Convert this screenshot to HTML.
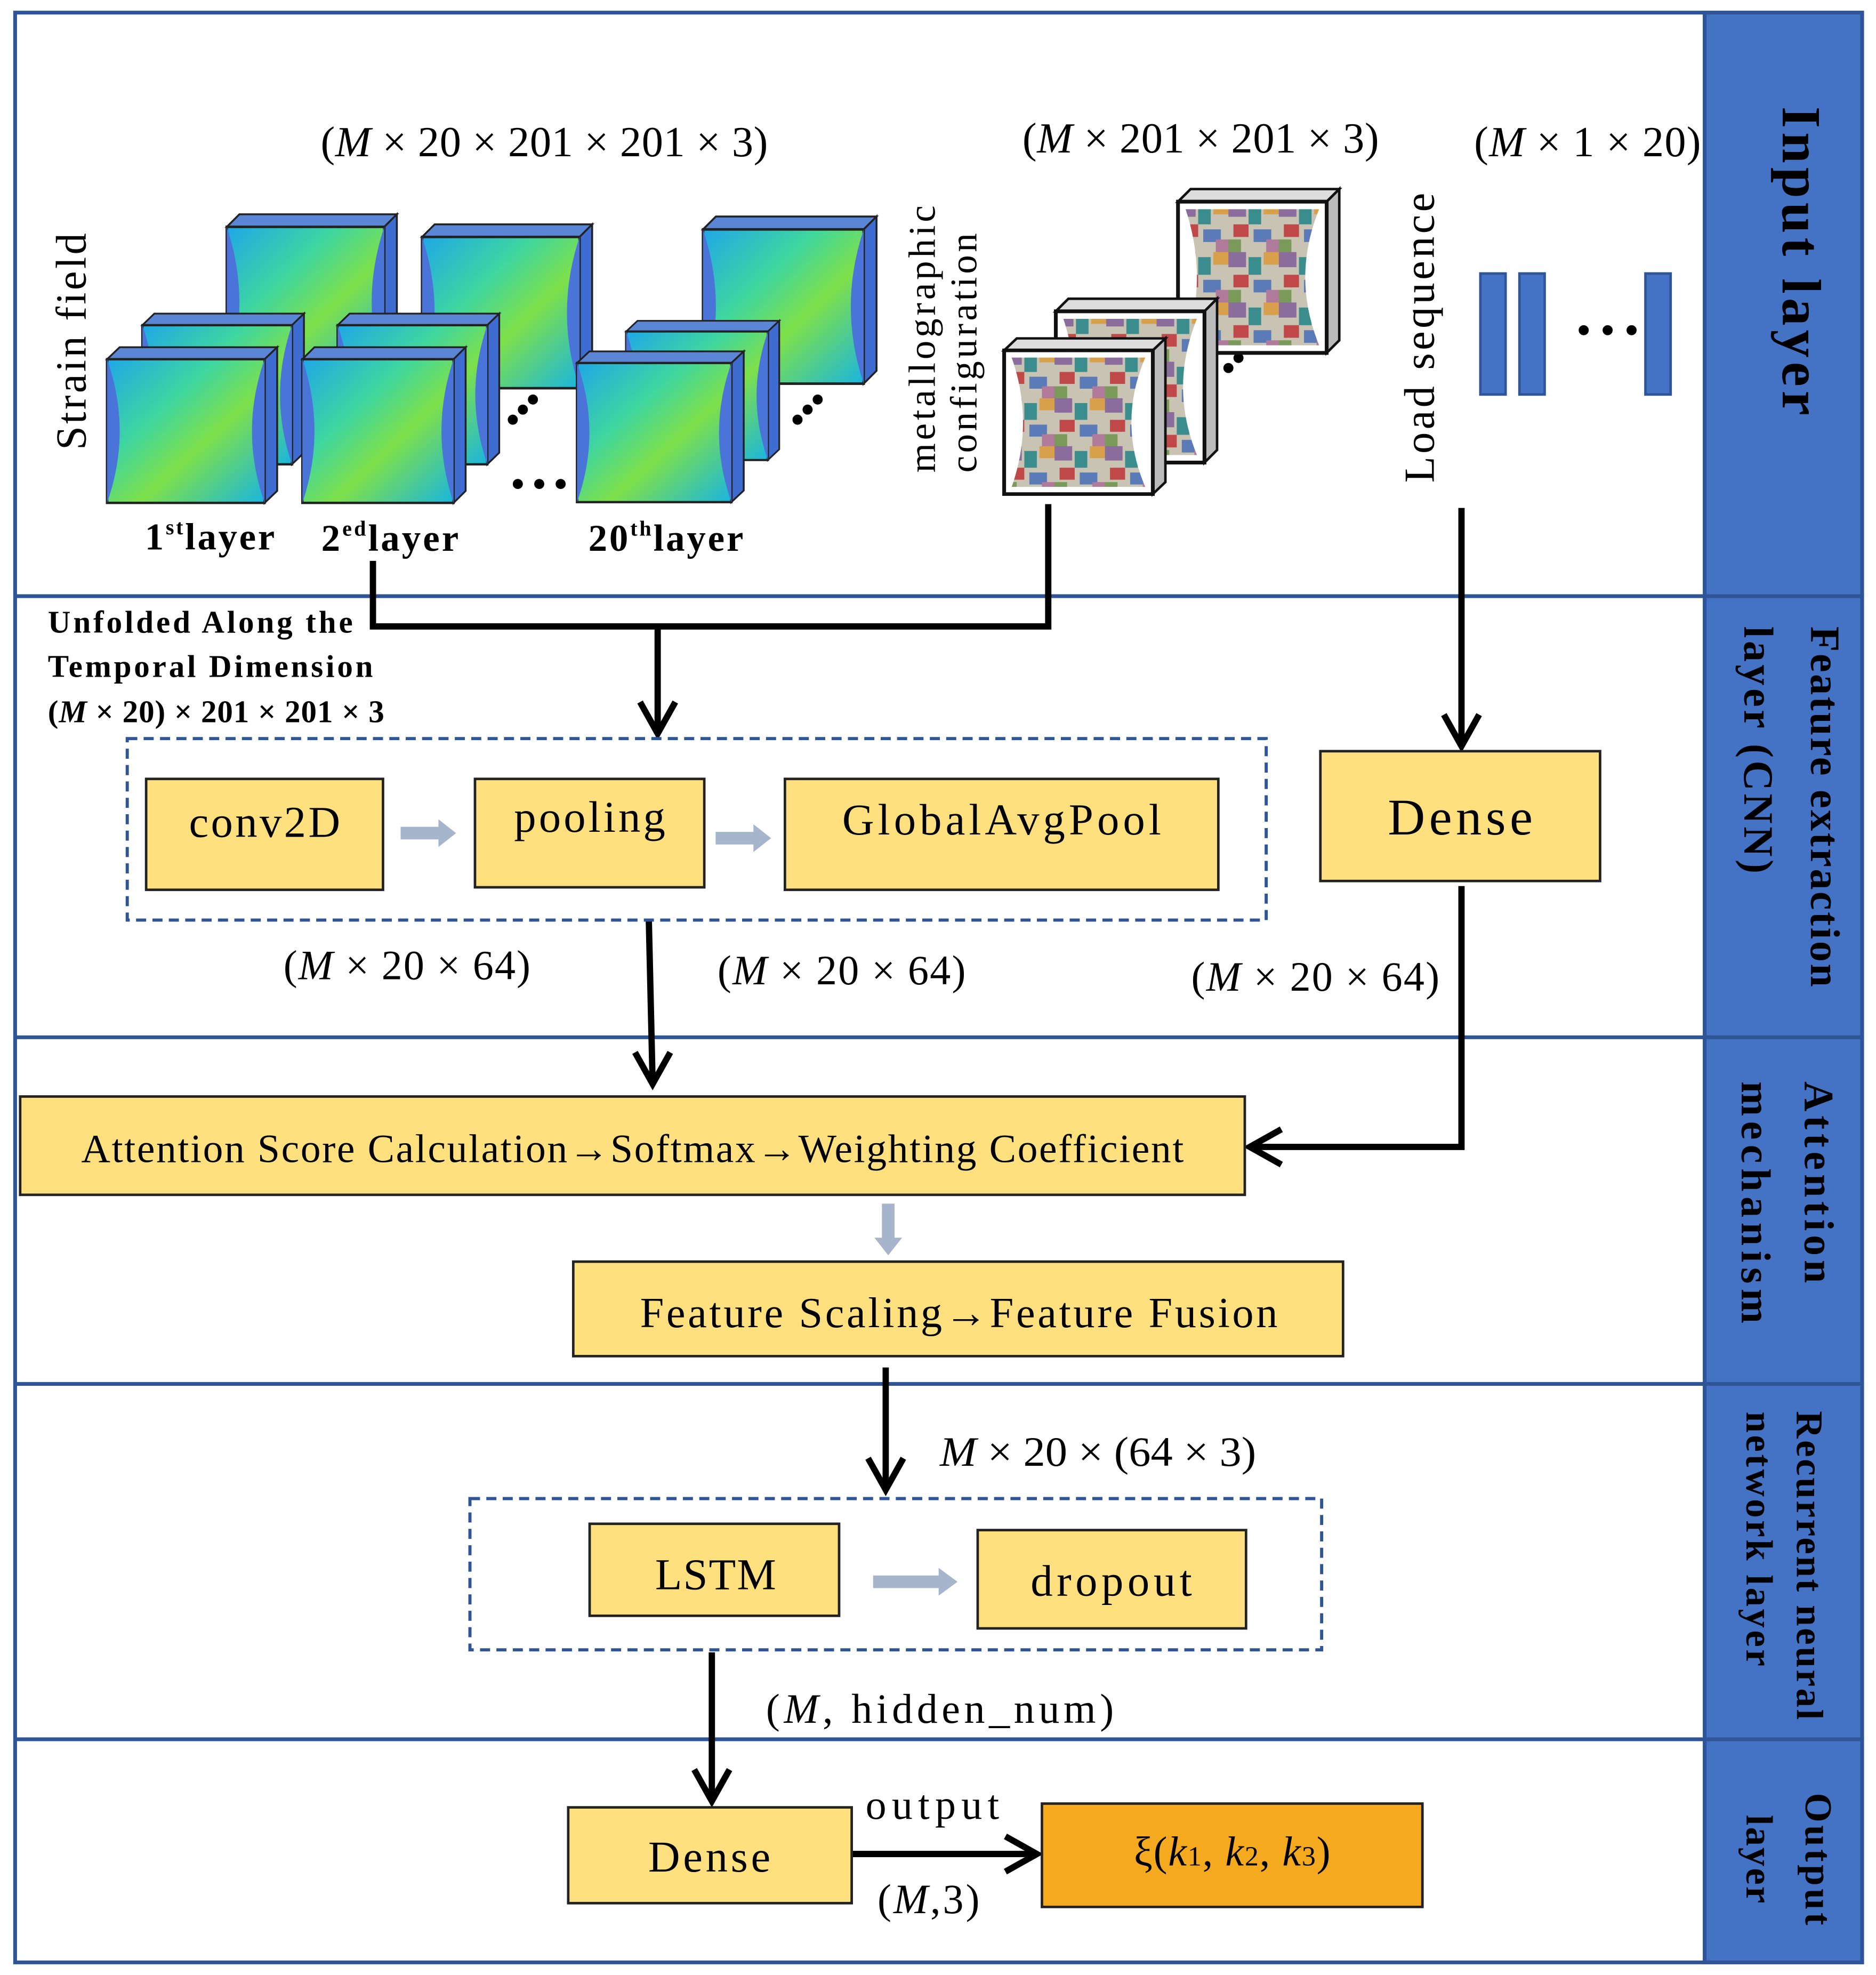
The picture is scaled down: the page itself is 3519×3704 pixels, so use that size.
<!DOCTYPE html>
<html><head><meta charset="utf-8"><style>
html,body{margin:0;padding:0;background:#fff;}
svg{display:block;}
text{font-family:"Liberation Serif",serif;fill:#000;}
</style></head><body>
<svg width="3519" height="3704" viewBox="0 0 1489 1567" preserveAspectRatio="none" xmlns="http://www.w3.org/2000/svg">
<defs>
<linearGradient id="sg" x1="0" y1="0" x2="1" y2="1">
<stop offset="0" stop-color="#1fa7e8"/><stop offset="0.35" stop-color="#3fd6a0"/><stop offset="0.6" stop-color="#7ee04a"/><stop offset="1" stop-color="#19b5e0"/></linearGradient>
<pattern id="mg" width="40" height="40" patternUnits="userSpaceOnUse">
<rect width="40" height="40" fill="#c9c3b3"/>
<rect x="0" y="0" width="14" height="12" fill="#8a6d9c"/><rect x="16" y="4" width="10" height="14" fill="#3b8c8c"/>
<rect x="28" y="0" width="12" height="10" fill="#d8a04a"/><rect x="4" y="18" width="12" height="10" fill="#c04848"/>
<rect x="20" y="22" width="14" height="10" fill="#5b7ab8"/><rect x="0" y="30" width="10" height="10" fill="#7a9a5a"/>
<rect x="30" y="30" width="10" height="10" fill="#b07a9a"/></pattern>
<g id="sc">
<polygon points="0,0 10,-10 135,-10 125,0" fill="#5b86d6" stroke="#222" stroke-width="1.5"/>
<polygon points="125,0 135,-10 135,110 125,120" fill="#3e6cd0" stroke="#222" stroke-width="1.5"/>
<rect x="0" y="0" width="125" height="120" fill="url(#sg)" stroke="#222" stroke-width="2"/>
<path d="M0,0 Q20,60 0,120 Z M125,0 Q105,60 125,120 Z" fill="#4a74d8"/>
</g>
<g id="mc">
<polygon points="0,0 10,-10 128,-10 118,0" fill="#ddd" stroke="#111" stroke-width="2"/>
<polygon points="118,0 128,-10 128,110 118,120" fill="#bbb" stroke="#111" stroke-width="2"/>
<rect x="0" y="0" width="118" height="120" fill="#fff" stroke="#111" stroke-width="3"/>
<path d="M6,6 L112,6 Q90,60 112,114 L6,114 Q24,60 6,6 Z" fill="url(#mg)"/>
</g>
</defs>
<rect x="12" y="10" width="1466" height="1547" fill="#fff" stroke="#2F5597" stroke-width="3"/>
<rect x="1353" y="10" width="125" height="1547" fill="#4472C4" stroke="#2F5597" stroke-width="3"/>
<g stroke="#2F5597" stroke-width="3">
<line x1="12" y1="473" x2="1478" y2="473"/><line x1="12" y1="823" x2="1478" y2="823"/>
<line x1="12" y1="1098" x2="1478" y2="1098"/><line x1="12" y1="1380" x2="1478" y2="1380"/></g>
<g text-anchor="middle" dominant-baseline="middle" font-weight="bold" lengthAdjust="spacingAndGlyphs">
<text transform="translate(1425,207) rotate(90)" font-size="44" textLength="245">Input layer</text>
<text transform="translate(1445,640) rotate(90)" font-size="33" textLength="286">Feature extraction</text>
<text transform="translate(1392,595) rotate(90)" font-size="33" textLength="196">layer (CNN)</text>
<text transform="translate(1440,938) rotate(90)" font-size="33" textLength="160">Attention</text>
<text transform="translate(1390,954) rotate(90)" font-size="33" textLength="192">mechanism</text>
<text transform="translate(1433,1242) rotate(90)" font-size="30" textLength="245">Recurrent neural</text>
<text transform="translate(1393,1221) rotate(90)" font-size="30" textLength="202">network layer</text>
<text transform="translate(1440,1475) rotate(90)" font-size="30" textLength="105">Output</text>
<text transform="translate(1393,1475) rotate(90)" font-size="30" textLength="70">layer</text>
</g>
<g lengthAdjust="spacingAndGlyphs">
<text x="432" y="124" text-anchor="middle" font-size="34" textLength="355">(<tspan font-style="italic">M</tspan> × 20 × 201 × 201 × 3)</text>
<text x="953" y="121" text-anchor="middle" font-size="34" textLength="283">(<tspan font-style="italic">M</tspan> × 201 × 201 × 3)</text>
<text x="1260" y="124" text-anchor="middle" font-size="34" textLength="180">(<tspan font-style="italic">M</tspan> × 1 × 20)</text>
<text transform="translate(68,271) rotate(-90)" text-anchor="middle" font-size="34" textLength="172">Strain field</text>
<text transform="translate(742,269) rotate(-90)" text-anchor="middle" font-size="30" textLength="212">metallographic</text>
<text transform="translate(775,280) rotate(-90)" text-anchor="middle" font-size="30" textLength="190">configuration</text>
<text transform="translate(1138,268) rotate(-90)" text-anchor="middle" font-size="34" textLength="230">Load sequence</text>
</g>
<use href="#sc" transform="translate(180,180)"/><use href="#sc" transform="translate(113,258) scale(0.95,0.92)"/><use href="#sc" transform="translate(85,285) scale(1,0.95)"/>
<use href="#sc" transform="translate(335,188)"/><use href="#sc" transform="translate(268,258) scale(0.95,0.92)"/><use href="#sc" transform="translate(240,285) scale(0.96,0.95)"/>
<use href="#sc" transform="translate(558,182) scale(1.02,1.02)"/><use href="#sc" transform="translate(497,263) scale(0.9,0.85)"/><use href="#sc" transform="translate(458,288) scale(0.98,0.92)"/>
<g fill="#000"><circle cx="407" cy="333" r="4"/><circle cx="415" cy="325" r="4"/><circle cx="423" cy="317" r="4"/>
<circle cx="633" cy="333" r="4"/><circle cx="641" cy="325" r="4"/><circle cx="649" cy="317" r="4"/>
<circle cx="411" cy="384" r="4"/><circle cx="428" cy="384" r="4"/><circle cx="445" cy="384" r="4"/>
<circle cx="975" cy="292" r="4"/><circle cx="983" cy="284" r="4"/><circle cx="991" cy="276" r="4"/>
<circle cx="1257" cy="262" r="4"/><circle cx="1276" cy="262" r="4"/><circle cx="1295" cy="262" r="4"/></g>
<g lengthAdjust="spacingAndGlyphs" font-weight="bold">
<text x="115" y="436" font-size="30" textLength="103">1<tspan font-size="17" dy="-12">st</tspan><tspan dy="12">layer</tspan></text>
<text x="255" y="437" font-size="30" textLength="109">2<tspan font-size="17" dy="-12">ed</tspan><tspan dy="12">layer</tspan></text>
<text x="467" y="437" font-size="30" textLength="123">20<tspan font-size="17" dy="-12">th</tspan><tspan dy="12">layer</tspan></text>
<text x="38" y="502" font-size="25" textLength="242">Unfolded Along the</text>
<text x="38" y="537" font-size="25" textLength="258">Temporal Dimension</text>
<text x="38" y="573" font-size="25" textLength="267">(<tspan font-style="italic">M</tspan> × 20) × 201 × 201 × 3</text>
</g>
<use href="#mc" transform="translate(935,160)"/><use href="#mc" transform="translate(838,247)"/><use href="#mc" transform="translate(797,278) scale(1,0.95)"/>
<g fill="#4472C4" stroke="#2F5597" stroke-width="2"><rect x="1175" y="217" width="20" height="96"/><rect x="1206" y="217" width="20" height="96"/><rect x="1306" y="217" width="20" height="96"/></g>
<g stroke="#000" stroke-width="5" fill="none">
<polyline points="296,445 296,497 832,497 832,400"/>
<line x1="522" y1="497" x2="522" y2="582"/><polyline points="508,557 522,582 536,557"/>
<line x1="1160" y1="403" x2="1160" y2="592"/><polyline points="1146,567 1160,592 1174,567"/>
<line x1="515" y1="731" x2="518" y2="860"/><polyline points="504,835 518,860 532,835"/>
<polyline points="1160,703 1160,910 992,910"/><polyline points="1017,896 992,910 1017,924"/>
<line x1="703" y1="1085" x2="703" y2="1182"/><polyline points="689,1157 703,1182 717,1157"/>
<line x1="565" y1="1311" x2="565" y2="1429"/><polyline points="551,1404 565,1429 579,1404"/>
<line x1="677" y1="1471" x2="823" y2="1471"/><polyline points="798,1457 823,1471 798,1485"/>
</g>
<rect x="101" y="586" width="904" height="144" fill="none" stroke="#2F5597" stroke-width="2.5" stroke-dasharray="8,5"/>
<rect x="373" y="1189" width="676" height="120" fill="none" stroke="#2F5597" stroke-width="2.5" stroke-dasharray="8,5"/>
<g fill="#FFE07E" stroke="#222" stroke-width="2">
<rect x="116" y="618" width="188" height="88"/><rect x="377" y="618" width="182" height="86"/>
<rect x="623" y="618" width="344" height="88"/><rect x="1048" y="596" width="222" height="103"/>
<rect x="16" y="870" width="972" height="78"/><rect x="455" y="1001" width="611" height="75"/>
<rect x="468" y="1209" width="198" height="73"/><rect x="776" y="1214" width="213" height="78"/>
<rect x="451" y="1434" width="225" height="76"/></g>
<rect x="827" y="1431" width="302" height="82" fill="#F5A91E" stroke="#222" stroke-width="2"/>
<g font-size="35" text-anchor="middle" lengthAdjust="spacingAndGlyphs">
<text x="210" y="664" textLength="120">conv2D</text><text x="468" y="660" textLength="120">pooling</text><text x="795" y="662" textLength="253">GlobalAvgPool</text>
<text x="1159" y="662" font-size="41" textLength="115">Dense</text>
<text x="502" y="922" font-size="32" textLength="875">Attention Score Calculation→Softmax→Weighting Coefficient</text>
<text x="761" y="1053" font-size="34" textLength="506">Feature Scaling→Feature Fusion</text>
<text x="568" y="1261" textLength="96">LSTM</text><text x="882" y="1266" textLength="128">dropout</text>
<text x="563" y="1485" textLength="97">Dense</text>
<text x="978" y="1480" font-size="33" textLength="156">ξ(<tspan font-style="italic">k</tspan><tspan font-size="22">1</tspan>, <tspan font-style="italic">k</tspan><tspan font-size="22">2</tspan>, <tspan font-style="italic">k</tspan><tspan font-size="22">3</tspan>)</text>
<text x="323" y="777" font-size="33" textLength="196">(<tspan font-style="italic">M</tspan> × 20 × 64)</text>
<text x="668" y="781" font-size="33" textLength="197">(<tspan font-style="italic">M</tspan> × 20 × 64)</text>
<text x="1044" y="786" font-size="33" textLength="197">(<tspan font-style="italic">M</tspan> × 20 × 64)</text>
<text x="746" y="1367" font-size="33" textLength="276">(<tspan font-style="italic">M</tspan>, hidden_num)</text>
<text x="740" y="1443" font-size="33" textLength="106">output</text>
<text x="737" y="1518" font-size="33" textLength="81">(<tspan font-style="italic">M</tspan>,3)</text>
</g>
<text x="746" y="1163" font-size="33" textLength="251" lengthAdjust="spacingAndGlyphs"><tspan font-style="italic">M</tspan> × 20 × (64 × 3)</text>
<g fill="#A6B4CC">
<polygon points="318,656 348,656 348,650 362,661 348,672 348,666 318,666"/>
<polygon points="568,660 598,660 598,654 612,665 598,676 598,670 568,670"/>
<polygon points="693,1250 745,1250 745,1244 760,1255 745,1266 745,1260 693,1260"/>
<polygon points="700,955 710,955 710,982 716,982 705,996 694,982 700,982"/>
</g>
</svg>
</body></html>
